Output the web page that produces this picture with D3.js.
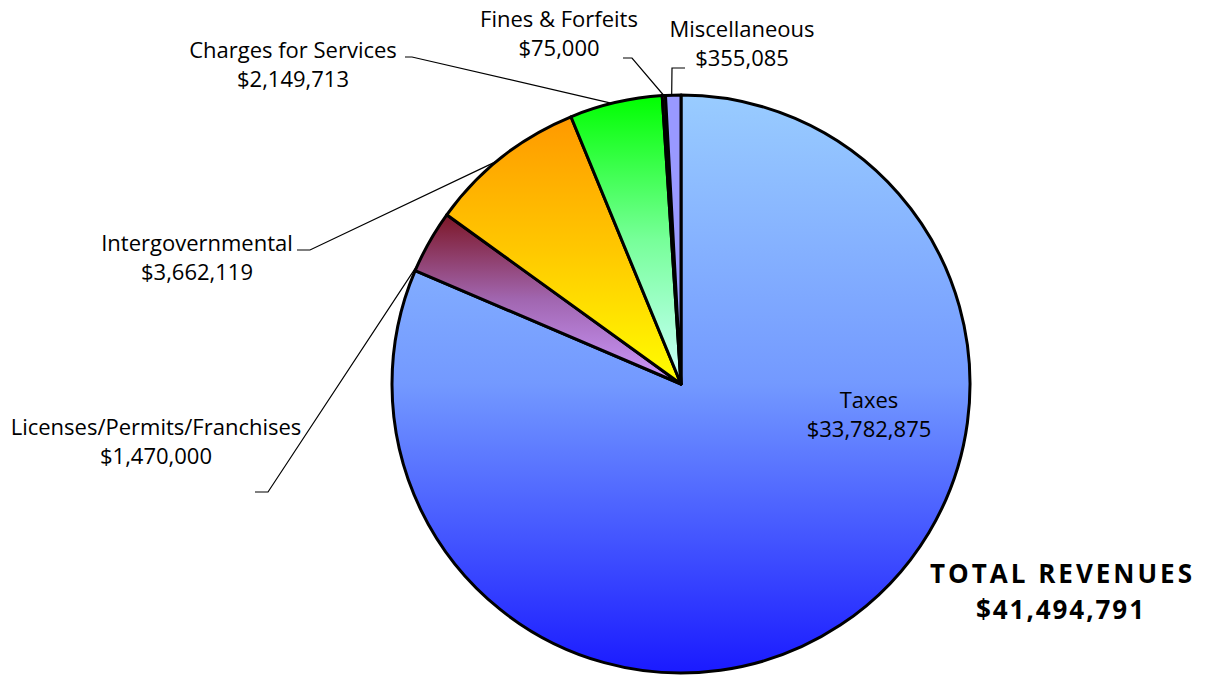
<!DOCTYPE html>
<html>
  <head>
    <meta charset="utf-8">
    <title>Revenues pie</title>
    <script src="https://d3js.org/d3.v7.min.js"></script>
    <style>
      body { margin: 0; background: #fff; }
      text { font-family: "Gill Sans", "Open Sans", Lato, sans-serif; fill: #000; }
    </style>
  </head>
  <body>
    <svg width="1209" height="675"></svg>
    <script>
    // data
    var categories = ["Taxes", "Licenses/Permits/Franchises", "Intergovernmental",
                      "Charges for Services", "Fines & Forfeits", "Miscellaneous"];
    var values = [33782875, 1470000, 3662119, 2149713, 75000, 355085];
    var totalLabel = "TOTAL REVENUES";
    var totalValue = 41494791;

    // slice fills (top -> bottom gradient)
    var gradTop = ["#99ccff", "#7c1626", "#ff9900", "#00ff00", "#6b5a00", "#9999ff"];
    var gradMid = ["#7399ff", "#a166b0", "#ffc800", "#77ff99", "#999900", "#9999ff"];
    var gradBot = ["#1a1aff", "#cc99ff", "#ffff00", "#ccffff", "#cccc33", "#9999ff"];

    // label layout: text centre, first baseline, leader tick and where on the slice it lands
    var labelLayout = [
      {x: 869, y: 408, inside: true},
      {x: 156, y: 435, t0: 255, t1: 268, ty: 492, frac: 0.11},
      {x: 197, y: 251, t0: 297, t1: 310, ty: 250, frac: 0.46},
      {x: 293, y: 58,  t0: 405, t1: 412, ty: 57,  frac: 0.46},
      {x: 559, y: 27,  t0: 623, t1: 632, ty: 58,  frac: 0.5},
      {x: 742, y: 37,  t0: 685, t1: 672, ty: 68,  frac: 0.4}
    ];

    var svg = d3.select("svg");
    var cx = 681, cy = 384, R = 289;
    var fmt = d3.format("$,");

    var defs = svg.append("defs");
    values.forEach(function(v, i) {
      var lg = defs.append("linearGradient")
        .attr("id", "grad" + i)
        .attr("x1", 0).attr("y1", 0).attr("x2", 0).attr("y2", 1);
      lg.append("stop").attr("offset", 0).attr("stop-color", gradTop[i]);
      lg.append("stop").attr("offset", 0.5).attr("stop-color", gradMid[i]);
      lg.append("stop").attr("offset", 1).attr("stop-color", gradBot[i]);
    });

    var pie = d3.pie().sort(null).value(function(d) { return d; });
    var pieData = pie(values);
    var arc = d3.arc().innerRadius(0).outerRadius(R);

    var g = svg.append("g").attr("transform", "translate(" + cx + "," + cy + ")");

    g.selectAll("path.slice")
      .data(pieData)
      .enter()
      .append("path")
      .attr("class", "slice")
      .attr("d", arc)
      .attr("fill", function(d, i) { return "url(#grad" + i + ")"; })
      .attr("stroke", "#000")
      .attr("stroke-width", 3)
      .attr("stroke-linejoin", "round");

    // leader lines
    pieData.forEach(function(d, i) {
      var L = labelLayout[i];
      if (L.inside) return;
      var a = d.startAngle + (d.endAngle - d.startAngle) * L.frac;
      var px = cx + R * Math.sin(a), py = cy - R * Math.cos(a);
      var line = d3.line();
      svg.append("path")
        .attr("d", line([[L.t0, L.ty], [L.t1, L.ty], [px, py]]))
        .attr("fill", "none")
        .attr("stroke", "#000")
        .attr("stroke-width", 1.2);
    });

    // labels
    categories.forEach(function(c, i) {
      var L = labelLayout[i];
      var t = svg.append("text")
        .attr("text-anchor", "middle")
        .attr("font-size", 22);
      t.append("tspan").attr("x", L.x).attr("y", L.y).text(c);
      t.append("tspan").attr("x", L.x).attr("y", L.y + 29).text(fmt(values[i]));
    });

    // total
    svg.append("text")
      .attr("x", 1061).attr("y", 583)
      .attr("text-anchor", "middle")
      .attr("font-size", 26)
      .attr("font-weight", "bold")
      .attr("textLength", 262)
      .attr("lengthAdjust", "spacing")
      .text(totalLabel);
    svg.append("text")
      .attr("x", 1060).attr("y", 619)
      .attr("text-anchor", "middle")
      .attr("font-size", 26)
      .attr("font-weight", "bold")
      .attr("textLength", 168)
      .attr("lengthAdjust", "spacing")
      .text(fmt(totalValue));
    </script>
  </body>
</html>
